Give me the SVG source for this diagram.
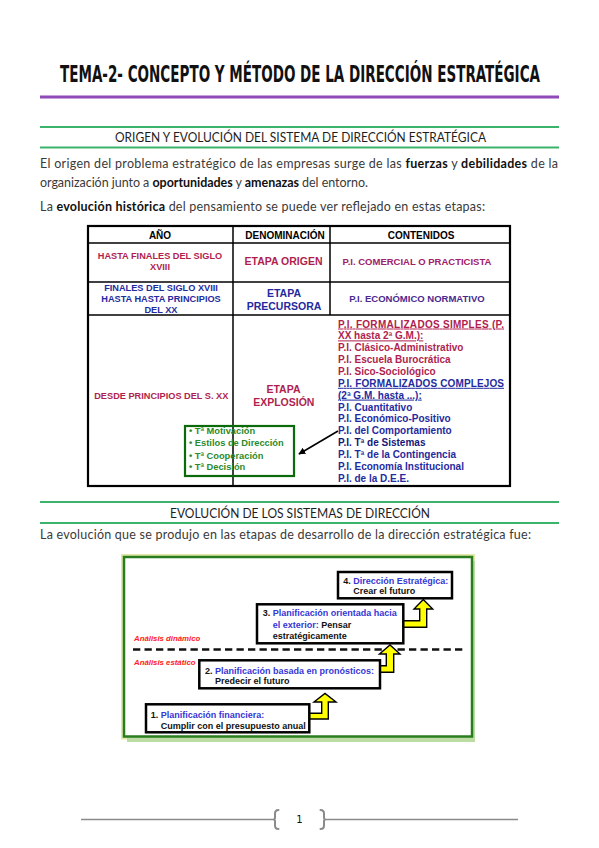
<svg xmlns="http://www.w3.org/2000/svg" width="599" height="848" viewBox="0 0 599 848">
<defs>
<style>
.title{font-family:"DejaVu Sans Condensed","DejaVu Sans",sans-serif;font-weight:bold;font-size:15px;fill:#111}
.hdr{font-family:Lato,"Open Sans",sans-serif;font-size:13px;fill:#1e1e1e;text-anchor:middle}
.body{font-family:Lato,"Open Sans",sans-serif;font-size:12.5px;fill:#3a3a3a}
.body .b{font-weight:bold;fill:#111}
.t{font-family:"Liberation Sans",Arial,sans-serif;font-weight:bold}
.th{font-size:10px;fill:#000;text-anchor:middle}
.c1{font-size:9.2px;text-anchor:middle}
.c2{font-size:10.5px;text-anchor:middle}
.c3{font-size:9.5px;text-anchor:middle}
.pi{font-size:10px}
.red{fill:#b01e4e}
.blu{fill:#1f2b9e}
.pur{fill:#a0206a}
.pbl{fill:#4a2a90}
.navy{fill:#16167a}
.grn{font-size:9.3px;fill:#2b8a2b}
.grid{stroke:#000;stroke-width:1.5;fill:none}
.dg{font-family:"Liberation Sans",Arial,sans-serif;font-weight:bold;font-size:9px;fill:#111}
.dg .bl{fill:#3636d6}
.ana{font-family:"Liberation Sans",Arial,sans-serif;font-weight:bold;font-style:italic;font-size:7.8px;fill:#ff2020}
.box{fill:#fff;stroke:#000;stroke-width:2.5}
.yarr{fill:#ffff00;stroke:#000;stroke-width:1.4;stroke-linejoin:miter}
.foot{stroke:#8a8a8a;stroke-width:1.3;fill:none}
.brace{stroke:#8a8a8a;stroke-width:2;fill:none;stroke-linecap:round}
</style>
<marker id="ah" viewBox="0 0 10 10" refX="9" refY="5" markerWidth="7" markerHeight="7" orient="auto-start-reverse" markerUnits="userSpaceOnUse">
<path d="M0,0 L10,5 L0,10 z" fill="#000"/>
</marker>
</defs>
<rect x="0" y="0" width="599" height="848" fill="#fff"/>

<g id="title">
<text class="title" transform="translate(60,82) scale(1,1.5)" x="0" y="0" textLength="480" lengthAdjust="spacingAndGlyphs">TEMA-2- CONCEPTO Y MÉTODO DE LA DIRECCIÓN ESTRATÉGICA</text>
<line x1="40" y1="97" x2="559" y2="97" stroke="#8e4bb8" stroke-width="3"/>
</g>

<g id="section1">
<line x1="40" y1="127" x2="559" y2="127" stroke="#3cb36b" stroke-width="2"/>
<line x1="40" y1="147.5" x2="559" y2="147.5" stroke="#3cb36b" stroke-width="2"/>
<text class="hdr" x="300.5" y="141.5" textLength="371" lengthAdjust="spacingAndGlyphs">ORIGEN Y EVOLUCIÓN DEL SISTEMA DE DIRECCIÓN ESTRATÉGICA</text>
<text class="body" x="40" y="168" textLength="518" lengthAdjust="spacing">El origen del problema estratégico de las empresas surge de las <tspan class="b">fuerzas</tspan> y <tspan class="b">debilidades</tspan> de la</text>
<text class="body" x="40" y="186.5" textLength="328" lengthAdjust="spacing">organización junto a <tspan class="b">oportunidades</tspan> y <tspan class="b">amenazas</tspan> del entorno.</text>
<text class="body" x="40" y="211" textLength="445" lengthAdjust="spacing">La <tspan class="b">evolución histórica</tspan> del pensamiento se puede ver reflejado en estas etapas:</text>
</g>

<g id="table">
<rect x="88" y="226" width="422" height="260" fill="#fff" stroke="#000" stroke-width="2.2"/>
<line class="grid" x1="88" y1="243" x2="510" y2="243"/>
<line class="grid" x1="88" y1="282" x2="510" y2="282"/>
<line class="grid" x1="88" y1="315" x2="510" y2="315"/>
<line class="grid" x1="233" y1="226" x2="233" y2="486"/>
<line class="grid" x1="330" y1="226" x2="330" y2="315"/>
<text class="t th" x="160" y="238.5">AÑO</text>
<text class="t th" x="285" y="238.5">DENOMINACIÓN</text>
<text class="t th" x="421" y="238.5">CONTENIDOS</text>

<text class="t c1 red" x="160" y="258.5">HASTA FINALES DEL SIGLO</text>
<text class="t c1 red" x="160" y="269.5">XVIII</text>
<text class="t c2 red" x="283.5" y="265">ETAPA ORIGEN</text>
<text class="t c3 pur" x="417" y="264.5">P.I. COMERCIAL O PRACTICISTA</text>

<text class="t c1 blu" x="161" y="291">FINALES DEL SIGLO XVIII</text>
<text class="t c1 blu" x="161" y="302">HASTA HASTA PRINCIPIOS</text>
<text class="t c1 blu" x="161" y="313">DEL XX</text>
<text class="t c2 blu" x="284" y="297">ETAPA</text>
<text class="t c2 blu" x="284" y="309.5">PRECURSORA</text>
<text class="t c3 pbl" x="417" y="301.5">P.I. ECONÓMICO NORMATIVO</text>

<text class="t c1 red" x="161.3" y="399">DESDE PRINCIPIOS DEL S. XX</text>
<text class="t c2 red" x="283.5" y="393">ETAPA</text>
<text class="t c2 red" x="283.8" y="405.5">EXPLOSIÓN</text>

<g id="contenidos">
<text class="t pi red" x="338" y="327.5" textLength="166" lengthAdjust="spacing" text-decoration="underline">P.I. FORMALIZADOS SIMPLES (P.</text>
<text class="t pi red" x="338" y="339.4" text-decoration="underline">XX hasta 2ª G.M.):</text>
<text class="t pi red" x="338" y="351.2">P.I. Clásico-Administrativo</text>
<text class="t pi red" x="338" y="363.1">P.I. Escuela Burocrática</text>
<text class="t pi red" x="338" y="374.9">P.I. Sico-Sociológico</text>
<text class="t pi blu" x="338" y="386.8" textLength="166" lengthAdjust="spacing" text-decoration="underline">P.I. FORMALIZADOS COMPLEJOS</text>
<text class="t pi blu" x="338" y="398.6" text-decoration="underline">(2ª G.M. hasta ...):</text>
<text class="t pi blu" x="338" y="410.5">P.I. Cuantitativo</text>
<text class="t pi blu" x="338" y="422.3">P.I. Económico-Positivo</text>
<text class="t pi blu" x="338" y="434.2">P.I. del Comportamiento</text>
<text class="t pi navy" x="338" y="446">P.I. Tª de Sistemas</text>
<text class="t pi blu" x="338" y="457.9">P.I. Tª de la Contingencia</text>
<text class="t pi blu" x="338" y="469.7">P.I. Economía Institucional</text>
<text class="t pi blu" x="338" y="481.6">P.I. de la D.E.E.</text>
</g>
</g>

<g id="green-box">
<rect x="185" y="426" width="109" height="50" fill="none" stroke="#0b6b0b" stroke-width="2.2"/>
<text class="t grn" x="189" y="433.5">• Tª Motivación</text>
<text class="t grn" x="189" y="446">• Estilos de Dirección</text>
<text class="t grn" x="189" y="458.5">• Tª Cooperación</text>
<text class="t grn" x="189" y="470">• Tª Decisión</text>
</g>

<g id="connectors-table">
<line x1="338" y1="431" x2="299" y2="454" stroke="#000" stroke-width="1.6" marker-end="url(#ah)"/>
</g>

<g id="section2">
<line x1="40" y1="502" x2="559" y2="502" stroke="#3cb36b" stroke-width="2"/>
<line x1="40" y1="523" x2="559" y2="523" stroke="#3cb36b" stroke-width="2"/>
<text class="hdr" x="300" y="518" textLength="260" lengthAdjust="spacingAndGlyphs">EVOLUCIÓN DE LOS SISTEMAS DE DIRECCIÓN</text>
<text class="body" x="40" y="539" textLength="491" lengthAdjust="spacing">La evolución que se produjo en las etapas de desarrollo de la dirección estratégica fue:</text>
</g>

<g id="diagram">
<rect x="124" y="557" width="348" height="179.5" fill="none" stroke="#e2e9a8" stroke-width="6"/>
<rect x="127" y="561" width="348" height="181" fill="#bcdca4"/>
<rect x="124" y="557" width="348" height="179.5" fill="#fff" stroke="#2a7d1e" stroke-width="2.5"/>
<text class="ana" x="134" y="641">Análisis dinámico</text>
<line x1="133" y1="649.5" x2="464" y2="649.5" stroke="#111" stroke-width="2.7" stroke-dasharray="7.3,4.2"/>
<text class="ana" x="134" y="665">Análisis estático</text>

<g id="connectors">
<polygon class="yarr" points="307,713.3 321.7,713.3 321.7,702 314,702 325,693.5 336,702 328.3,702 328.3,719 307,719"/>
<polygon class="yarr" points="378,665.7 386.3,665.7 386.3,654 379.5,654 390,645 400,654 393.7,654 393.7,672.3 378,672.3"/>
<polygon class="yarr" points="401,620.7 419.7,620.7 419.7,609 414,609 423.3,599.5 432.7,609 426.7,609 426.7,627.3 401,627.3"/>
</g>

<g id="node-4">
<rect class="box" x="338" y="572" width="114" height="26.3"/>
<text class="dg" x="343.3" y="583.5">4. <tspan class="bl">Dirección Estratégica:</tspan></text>
<text class="dg" x="353.3" y="594">Crear el futuro</text>
</g>
<g id="node-3">
<rect class="box" x="257" y="604.3" width="146.3" height="39"/>
<text class="dg" x="262.7" y="616">3. <tspan class="bl">Planificación  orientada hacia</tspan></text>
<text class="dg" x="272.7" y="627.5"><tspan class="bl">el exterior:</tspan> Pensar</text>
<text class="dg" x="272.7" y="638.5">estratégicamente</text>
</g>
<g id="node-2">
<rect class="box" x="199.3" y="660.3" width="180.7" height="28"/>
<text class="dg" x="205" y="673.5">2. <tspan class="bl">Planificación  basada en pronósticos:</tspan></text>
<text class="dg" x="215" y="684">Predecir el futuro</text>
</g>
<g id="node-1">
<rect class="box" x="146" y="704.3" width="163.3" height="28"/>
<text class="dg" x="150.7" y="717.5">1. <tspan class="bl">Planificación financiera:</tspan></text>
<text class="dg" x="160.7" y="728.5">Cumplir con el presupuesto anual</text>
</g>
</g>

<g id="footer">
<line class="foot" x1="81" y1="819.5" x2="274" y2="819.5"/>
<line class="foot" x1="325" y1="819.5" x2="518" y2="819.5"/>
<path class="brace" d="M278.5,810 Q275,810 275,813.5 L275,817.5 Q275,819.5 273.5,819.5 Q275,819.5 275,821.5 L275,825.5 Q275,829 278.5,829"/>
<path class="brace" d="M320.5,810 Q324,810 324,813.5 L324,817.5 Q324,819.5 325.5,819.5 Q324,819.5 324,821.5 L324,825.5 Q324,829 320.5,829"/>
<text x="299.5" y="823" text-anchor="middle" font-family="DejaVu Sans,sans-serif" font-size="10" fill="#111">1</text>
</g>
</svg>
